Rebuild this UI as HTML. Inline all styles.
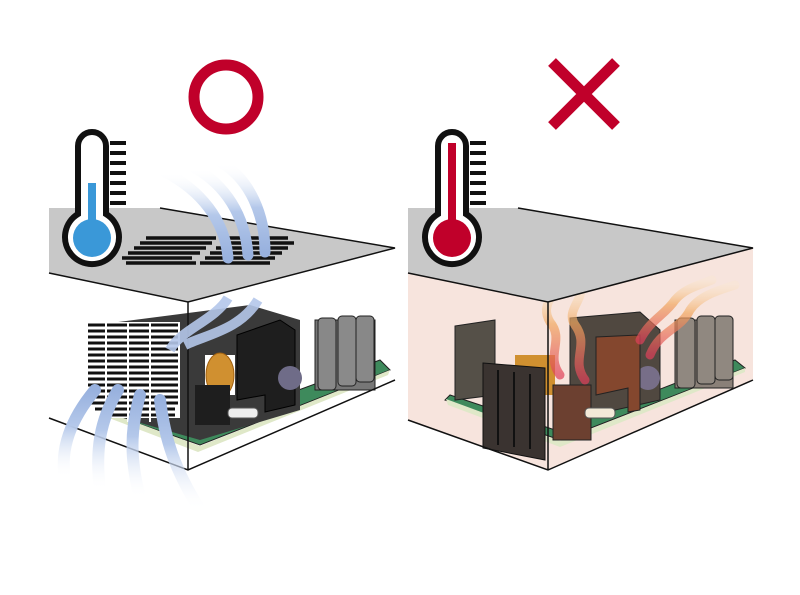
<!DOCTYPE html>
<html><head><style>body{margin:0;background:#fff}svg{display:block}</style></head><body>
<svg width="800" height="595" viewBox="0 0 800 595" xmlns="http://www.w3.org/2000/svg">
<defs>
<linearGradient id="air" x1="0" y1="0" x2="0" y2="1"><stop offset="0" stop-color="#fff" stop-opacity="0"/><stop offset=".5" stop-color="#b4c8ea"/><stop offset="1" stop-color="#98b1de"/></linearGradient>
<linearGradient id="airU" x1="0" y1="1" x2="0" y2="0"><stop offset="0" stop-color="#fff" stop-opacity="0"/><stop offset=".6" stop-color="#b4c8ea"/><stop offset="1" stop-color="#98b1de"/></linearGradient>
<linearGradient id="fire" x1="0" y1="1" x2="0" y2="0"><stop offset="0" stop-color="#e0405a"/><stop offset=".6" stop-color="#f1a860"/><stop offset="1" stop-color="#fbe7c0" stop-opacity="0.3"/></linearGradient>
</defs>
<circle cx="226" cy="97" r="32" fill="none" stroke="#c0002a" stroke-width="11"/>
<path d="M552 62 L616 126 M616 62 L552 126" stroke="#c0002a" stroke-width="11"/>

<!-- LEFT BOX -->
<g>
<polygon points="85,405 200,445 390,370 380,360 190,430 95,400" fill="#3e8a5c" stroke="#222" stroke-width="1"/>
<polygon points="88,410 198,452 388,375 390,370 200,446 86,404" fill="#dfe8c8"/>
<rect x="315" y="320" width="60" height="70" fill="#777" stroke="#222"/>
<rect x="318" y="318" width="18" height="72" rx="4" fill="#888" stroke="#222"/>
<rect x="338" y="316" width="18" height="70" rx="4" fill="#8a8a8a" stroke="#222"/>
<rect x="356" y="316" width="18" height="66" rx="4" fill="#888" stroke="#222"/>
<polygon points="95,325 250,305 300,320 300,410 200,440 95,410" fill="#3a3a3a"/>
<polygon points="237,335 280,320 295,330 295,405 265,412 265,395 237,400" fill="#1e1e1e" stroke="#000"/>
<circle cx="290" cy="378" r="12" fill="#6f6c88"/>
<rect x="205" y="355" width="30" height="40" fill="#fff"/>
<ellipse cx="220" cy="375" rx="14" ry="22" fill="#d09030" stroke="#a06010"/>
<rect x="195" y="385" width="35" height="40" fill="#1e1e1e"/>
<rect x="228" y="408" width="30" height="10" rx="4" fill="#eee" stroke="#555"/>
<rect x="88" y="322" width="92" height="96" fill="#fff"/>
<g stroke="#111" stroke-width="3">
<path d="M88 325h90M88 331h90M88 337h90M88 343h90M88 349h90M88 355h90M88 361h90M88 367h90M88 373h90M88 379h90M88 385h90M88 391h90M88 397h90M88 403h90M95 409h80M110 415h65"/>
</g>
<g stroke="#fff" stroke-width="2"><path d="M106 322v100M128 322v100M150 322v100"/></g>
<polygon points="49,208 160,208 395,248 188,302 49,273" fill="#c8c8c8"/>
<path d="M160 208 L395 248 L188 302 L49 273" fill="none" stroke="#111" stroke-width="1.5"/>
<g stroke="#111" stroke-width="3.5">
<path d="M122 258h70M128 253h72M134 248h72M140 243h72M146 238h70M126 263h70"/>
<path d="M205 258h70M210 253h72M216 248h72M222 243h72M228 238h60M200 263h70"/>
</g>
<path d="M188 302 V470 M49 418 L188 470 L395 380" fill="none" stroke="#111" stroke-width="1.5"/>
<g fill="none" stroke="url(#air)" stroke-width="11" stroke-linecap="round">
<path d="M165 172 C200 190 225 220 228 258"/>
<path d="M195 168 C225 185 245 215 248 255"/>
<path d="M222 163 C250 180 265 215 265 252"/>
</g>
<g fill="none" stroke="#b4c7ea" stroke-width="10" opacity=".9">
<path d="M228 298 C215 320 180 330 170 350"/>
<path d="M258 300 C240 330 205 335 185 345"/>
</g>
<g fill="none" stroke="url(#airU)" stroke-width="12" stroke-linecap="round">
<path d="M95 390 C70 420 60 450 65 478"/>
<path d="M118 390 C100 420 95 450 100 490"/>
<path d="M140 395 C130 430 130 460 140 498"/>
<path d="M160 400 C165 440 175 470 200 510"/>
</g>
<rect x="110" y="141" width="16" height="4" fill="#111"/><rect x="110" y="151" width="16" height="4" fill="#111"/><rect x="110" y="161" width="16" height="4" fill="#111"/><rect x="110" y="171" width="16" height="4" fill="#111"/><rect x="110" y="181" width="16" height="4" fill="#111"/><rect x="110" y="191" width="16" height="4" fill="#111"/><rect x="110" y="201" width="16" height="4" fill="#111"/>
<path d="M78 146 a14 14 0 0 1 28 0 V214 a27 27 0 1 1 -28 0 Z" fill="#fff" stroke="#111" stroke-width="6"/>
<rect x="88" y="183" width="8" height="45" fill="#3a98d8"/>
<circle cx="92" cy="238" r="19" fill="#3a98d8"/>
</g>

<!-- RIGHT BOX -->
<g>
<polygon points="408,273 548,302 548,470 408,420" fill="#f7e4dd"/>
<polygon points="548,302 753,248 753,380 548,470" fill="#f7e4dd"/>
<polygon points="445,400 560,440 745,368 735,360 555,430 450,395" fill="#3e8a5c" stroke="#222"/>
<polygon points="448,405 560,447 745,372 745,368 560,441 446,399" fill="#dfe8c8"/>
<rect x="675" y="320" width="58" height="68" fill="#8a8078" stroke="#222"/>
<rect x="677" y="318" width="18" height="70" rx="4" fill="#908880" stroke="#222"/>
<rect x="697" y="316" width="18" height="68" rx="4" fill="#908880" stroke="#222"/>
<rect x="715" y="316" width="18" height="64" rx="4" fill="#908880" stroke="#222"/>
<polygon points="455,326 495,320 495,395 455,400" fill="#555048" stroke="#222"/>
<polygon points="570,318 640,312 660,330 660,400 570,420" fill="#504840" stroke="#222"/>
<circle cx="648" cy="378" r="12" fill="#776e88"/>
<rect x="515" y="355" width="40" height="40" fill="#d09030"/>
<polygon points="483,363 545,368 545,460 483,448" fill="#3a3330" stroke="#111"/>
<path d="M498 370v75M514 372v75M530 374v75" stroke="#111" stroke-width="2"/>
<rect x="553" y="385" width="38" height="55" fill="#6c4030" stroke="#222"/>
<polygon points="596,337 640,335 640,410 628,412 628,388 596,395" fill="#84472e" stroke="#222"/>
<rect x="585" y="408" width="30" height="10" rx="4" fill="#f3ead8" stroke="#555"/>
<g fill="none" stroke="url(#fire)" stroke-width="9" stroke-linecap="round" opacity=".7">
<path d="M585 380 C570 360 590 345 575 325 C565 310 585 300 580 285"/>
<path d="M560 375 C545 355 565 340 550 322 C540 305 555 298 550 290"/>
<path d="M650 355 C660 330 680 330 690 310 C700 295 720 290 735 285"/>
<path d="M640 340 C650 320 665 315 675 300 C685 288 700 285 712 280"/>
</g>
<polygon points="408,208 518,208 753,248 548,302 408,273" fill="#c8c8c8"/>
<path d="M518 208 L753 248 L548 302 L408 273 M548 302 V470 M408 420 L548 470 L753 380" fill="none" stroke="#111" stroke-width="1.5"/>
<rect x="470" y="141" width="16" height="4" fill="#111"/><rect x="470" y="151" width="16" height="4" fill="#111"/><rect x="470" y="161" width="16" height="4" fill="#111"/><rect x="470" y="171" width="16" height="4" fill="#111"/><rect x="470" y="181" width="16" height="4" fill="#111"/><rect x="470" y="191" width="16" height="4" fill="#111"/><rect x="470" y="201" width="16" height="4" fill="#111"/>
<path d="M438 146 a14 14 0 0 1 28 0 V214 a27 27 0 1 1 -28 0 Z" fill="#fff" stroke="#111" stroke-width="6"/>
<rect x="448" y="143" width="8" height="85" fill="#c0002a"/>
<circle cx="452" cy="238" r="19" fill="#c0002a"/>
</g>
</svg>
</body></html>
